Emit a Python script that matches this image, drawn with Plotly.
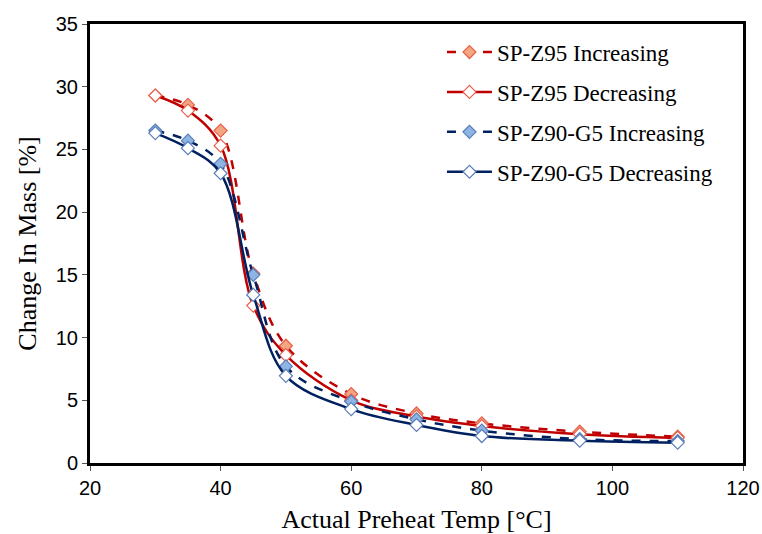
import plotly.graph_objects as go

# Preheat temperatures (°C)
temps = [30, 35, 40, 45, 50, 60, 70, 80, 95, 110]

# Change in mass (%) for each material / ramp direction
z95_increasing = [29.3, 28.55, 26.5, 15.1, 9.35, 5.5, 3.95, 3.16, 2.5, 2.1]
z95_decreasing = [29.3, 28.1, 25.3, 12.55, 8.6, 5.0, 3.7, 2.95, 2.3, 2.0]
z90g5_increasing = [26.5, 25.7, 23.85, 15.0, 7.7, 4.9, 3.48, 2.58, 1.9, 1.75]
z90g5_decreasing = [26.3, 25.1, 23.1, 13.4, 6.95, 4.3, 3.03, 2.15, 1.78, 1.62]

series_names = ["SP-Z95 Increasing", "SP-Z95 Decreasing",
                "SP-Z90-G5 Increasing", "SP-Z90-G5 Decreasing"]

RED = "#C00000"
NAVY = "#002060"

styles = [
    dict(line=dict(color=RED, width=2.5, dash="dash"),
         marker=dict(fill="#F4A582", edge="#E8604A")),
    dict(line=dict(color=RED, width=2.5, dash="solid"),
         marker=dict(fill="white", edge="#E8604A")),
    dict(line=dict(color=NAVY, width=2.5, dash="dash"),
         marker=dict(fill="#8DB4E2", edge="#5B7DB8")),
    dict(line=dict(color=NAVY, width=2.5, dash="solid"),
         marker=dict(fill="white", edge="#5B7DB8")),
]

SERIF = "Liberation Serif, Times New Roman, serif"
SANS = "Liberation Sans, Arial, sans-serif"

fig = go.Figure()
for i, (name, ys, st) in enumerate(zip(
        series_names,
        [z95_increasing, z95_decreasing, z90g5_increasing, z90g5_decreasing],
        styles)):
    fig.add_trace(go.Scatter(
        x=temps, y=ys, name=name, mode="lines+markers", legendgroup=f"g{i}",
        line=dict(color=st["line"]["color"], width=st["line"]["width"],
                  dash=st["line"]["dash"], shape="spline", smoothing=1.0),
        marker=dict(symbol="diamond", size=10, color=st["marker"]["fill"],
                    line=dict(color=st["marker"]["edge"], width=1.2)),
    ))

axis_common = dict(
    showline=True, linecolor="black", linewidth=3, mirror=True,
    ticks="outside", ticklen=5, tickcolor="#555555", tickwidth=1,
    showgrid=False, zeroline=False, automargin=False,
    tickfont=dict(family=SANS, size=20, color="black"),
)

fig.update_xaxes(range=[20, 120], dtick=20, **axis_common,
                 title=dict(text="Actual Preheat Temp [°C]",
                            font=dict(family=SERIF, size=26, color="black"),
                            standoff=16))
fig.update_yaxes(range=[0, 35], dtick=5, **axis_common,
                 title=dict(text="Change In Mass [%]",
                            font=dict(family=SERIF, size=26, color="black"),
                            standoff=12))

fig.update_layout(
    width=762, height=534,
    margin=dict(l=90, r=19, t=24, b=71),
    paper_bgcolor="white", plot_bgcolor="white",
    showlegend=True,
    legend=dict(x=0.539, y=0.985, xanchor="left", yanchor="top",
                bgcolor="rgba(0,0,0,0)", borderwidth=0,
                font=dict(family=SERIF, size=23, color="black"),
                traceorder="grouped", tracegroupgap=7, itemwidth=45),
)

fig.write_html("out.html")
